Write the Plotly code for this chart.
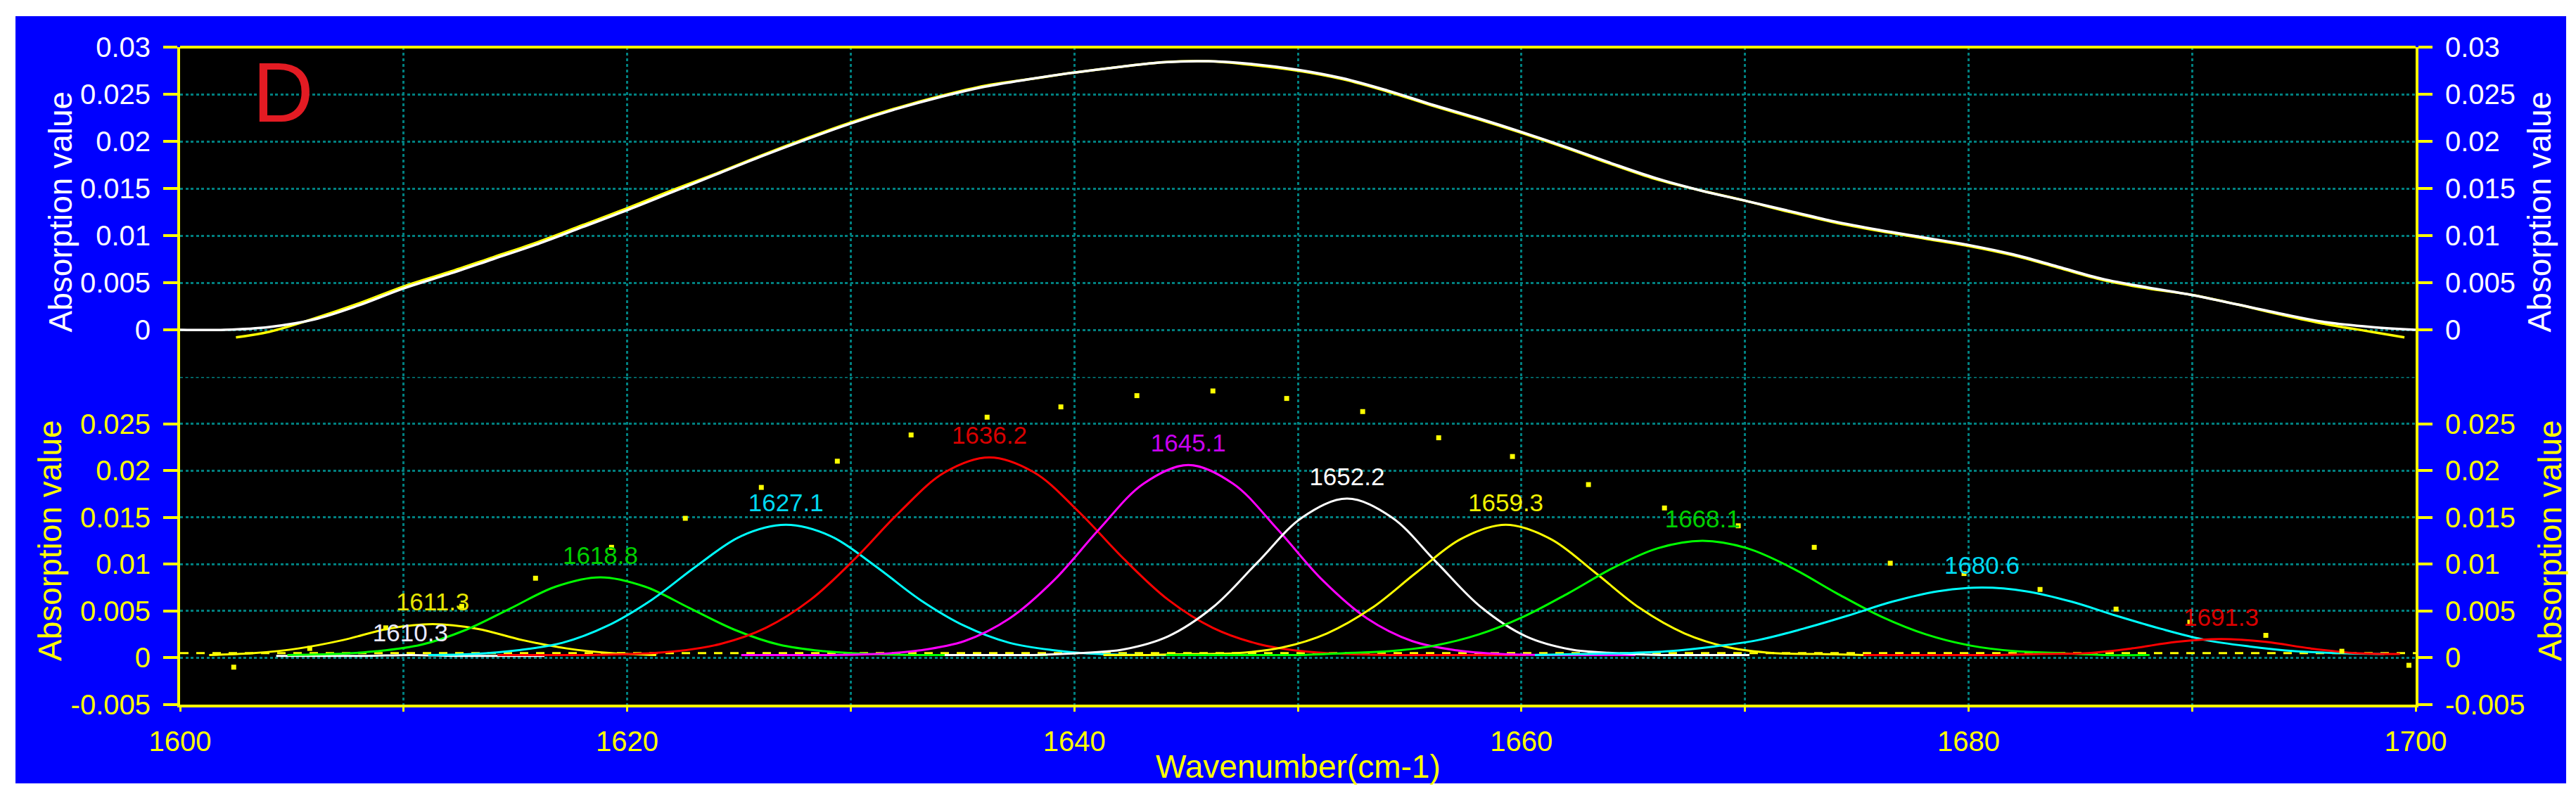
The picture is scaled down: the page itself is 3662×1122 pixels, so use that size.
import plotly.graph_objects as go

# ---------------- data ----------------
# top panel: fitted curve (white) and original spectrum (yellow)
fit_x = [1600, 1602, 1604, 1606, 1608, 1610, 1612, 1614, 1616, 1618, 1620, 1622, 1624, 1626, 1628,
         1630, 1632, 1634, 1636, 1638, 1640, 1642, 1644, 1646, 1648, 1650, 1652, 1654, 1656, 1658,
         1660, 1662, 1664, 1666, 1668, 1670, 1672, 1674, 1676, 1678, 1680, 1682, 1684, 1686, 1688,
         1690, 1692, 1694, 1696, 1698, 1700]
fit_y = [0.0, 0.0, 0.0003, 0.0011, 0.0026, 0.0044, 0.0059, 0.0075, 0.0091, 0.0109, 0.0127, 0.0146,
         0.0165, 0.0184, 0.0202, 0.0219, 0.0234, 0.0247, 0.0258, 0.0266, 0.0273, 0.0279, 0.0284,
         0.0285, 0.0282, 0.0276, 0.0267, 0.0254, 0.0239, 0.0225, 0.0210, 0.0194, 0.0177, 0.0161,
         0.0148, 0.0137, 0.0126, 0.0115, 0.0106, 0.0098, 0.0090, 0.0080, 0.0067, 0.0054, 0.0045,
         0.0037, 0.0027, 0.0017, 0.0008, 0.0003, 0.0]

orig_x = [1602.5, 1604, 1606, 1608, 1610, 1612, 1614, 1616, 1618, 1620, 1622, 1624, 1626, 1628,
          1630, 1632, 1634, 1636, 1638, 1640, 1642, 1644, 1646, 1648, 1650, 1652, 1654, 1656, 1658,
          1660, 1662, 1664, 1666, 1668, 1670, 1672, 1674, 1676, 1678, 1680, 1682, 1684, 1686, 1688,
          1690, 1692, 1694, 1696, 1698, 1699.5]
orig_y = [-0.0008, -0.0002, 0.0012, 0.0028, 0.0046, 0.0061, 0.0077, 0.0093, 0.0111, 0.0129, 0.0148,
          0.0166, 0.0185, 0.0203, 0.0220, 0.0235, 0.0248, 0.0259, 0.0266, 0.0273, 0.0279, 0.0284,
          0.0285, 0.0281, 0.0275, 0.0266, 0.0253, 0.0238, 0.0224, 0.0209, 0.0193, 0.0176, 0.0160,
          0.0148, 0.0137, 0.0125, 0.0114, 0.0105, 0.0097, 0.0089, 0.0079, 0.0066, 0.0053, 0.0044,
          0.0037, 0.0027, 0.0016, 0.0006, -0.0002, -0.0008]

# bottom panel: original data points
dot_x = [1602.4, 1605.8, 1609.2, 1612.6, 1615.9, 1619.3, 1622.6, 1626.0, 1629.4, 1632.7, 1636.1,
         1639.4, 1642.8, 1646.2, 1649.5, 1652.9, 1656.3, 1659.6, 1663.0, 1666.4, 1669.7, 1673.1,
         1676.5, 1679.8, 1683.2, 1686.6, 1689.9, 1693.3, 1696.7, 1699.7]
dot_y = [-0.0010, 0.0010, 0.0032, 0.0055, 0.0085, 0.0118, 0.0149, 0.0182, 0.0210, 0.0238, 0.0257,
         0.0268, 0.0280, 0.0285, 0.0277, 0.0263, 0.0235, 0.0215, 0.0185, 0.0160, 0.0141, 0.0118,
         0.0101, 0.0090, 0.0073, 0.0052, 0.0038, 0.0024, 0.0007, -0.0008]

# baseline (dashed yellow)
base_x = [1600, 1700]
base_y = [0.0005, 0.0005]

# fitted band components
peak_centers = [1610.3, 1611.3, 1618.8, 1627.1, 1636.2, 1645.1, 1652.2, 1659.3, 1668.1, 1680.6, 1691.3]
peak_heights = [0.0003, 0.0036, 0.0086, 0.0142, 0.0214, 0.0206, 0.0170, 0.0142, 0.0125, 0.0075, 0.0020]
peak_colors = ["#FFFFFF", "#FFFF00", "#00FF00", "#00FFFF", "#FF0000", "#FF00FF", "#FFFFFF",
               "#FFFF00", "#00FF00", "#00FFFF", "#FF0000"]
label_colors = ["#E8E8FF", "#E6E600", "#00D000", "#00D8F0", "#D80000", "#C800F0", "#FFFFFF",
                "#F0F000", "#00D000", "#00D8F0", "#D80000"]

c0_x = [1604.3, 1606.3, 1608.3, 1610.3, 1612.3, 1614.3, 1616.3]
c0_y = [0.0002, 0.0002, 0.0002, 0.0003, 0.0002, 0.0002, 0.0002]
c1_x = [1601.3, 1603.3, 1605.3, 1607.3, 1609.3, 1611.3, 1613.3, 1615.3, 1617.3, 1619.3, 1621.3]
c1_y = [0.0003, 0.0005, 0.0010, 0.0019, 0.0031, 0.0036, 0.0031, 0.0019, 0.0010, 0.0005, 0.0003]
c2_x = [1604.8, 1606.8, 1608.8, 1610.8, 1612.8, 1614.8, 1616.8, 1618.8, 1620.8, 1622.8, 1624.8,
        1626.8, 1628.8, 1630.8, 1632.8, 1634.8, 1636.8, 1638.8]
c2_y = [0.0003, 0.0004, 0.0007, 0.0014, 0.0030, 0.0053, 0.0076, 0.0086, 0.0076, 0.0053, 0.0030,
        0.0014, 0.0007, 0.0004, 0.0003, 0.0003, 0.0003, 0.0003]
c3_x = [1611.1, 1613.1, 1615.1, 1617.1, 1619.1, 1621.1, 1623.1, 1625.1, 1627.1, 1629.1, 1631.1,
        1633.1, 1635.1, 1637.1, 1639.1, 1641.1, 1643.1, 1645.1]
c3_y = [0.0003, 0.0004, 0.0008, 0.0016, 0.0034, 0.0062, 0.0098, 0.0130, 0.0142, 0.0130, 0.0098,
        0.0062, 0.0034, 0.0016, 0.0008, 0.0004, 0.0003, 0.0003]
c4_x = [1614.2, 1616.2, 1618.2, 1620.2, 1622.2, 1624.2, 1626.2, 1628.2, 1630.2, 1632.2, 1634.2,
        1636.2, 1638.2, 1640.2, 1642.2, 1644.2, 1646.2, 1648.2, 1650.2, 1652.2, 1654.2, 1656.2,
        1658.2, 1660.2]
c4_y = [0.0003, 0.0003, 0.0003, 0.0004, 0.0007, 0.0015, 0.0032, 0.0062, 0.0106, 0.0156, 0.0198,
        0.0214, 0.0198, 0.0156, 0.0106, 0.0062, 0.0032, 0.0015, 0.0007, 0.0004, 0.0003, 0.0003,
        0.0003, 0.0003]
c5_x = [1625.1, 1627.1, 1629.1, 1631.1, 1633.1, 1635.1, 1637.1, 1639.1, 1641.1, 1643.1, 1645.1,
        1647.1, 1649.1, 1651.1, 1653.1, 1655.1, 1657.1, 1659.1, 1661.1, 1663.1, 1665.1]
c5_y = [0.0003, 0.0003, 0.0003, 0.0004, 0.0008, 0.0018, 0.0042, 0.0083, 0.0137, 0.0186, 0.0206,
        0.0186, 0.0137, 0.0083, 0.0042, 0.0018, 0.0008, 0.0004, 0.0003, 0.0003, 0.0003]
c6_x = [1634.2, 1636.2, 1638.2, 1640.2, 1642.2, 1644.2, 1646.2, 1648.2, 1650.2, 1652.2, 1654.2,
        1656.2, 1658.2, 1660.2, 1662.2, 1664.2, 1666.2, 1668.2, 1670.2]
c6_y = [0.0003, 0.0003, 0.0003, 0.0005, 0.0009, 0.0023, 0.0054, 0.0102, 0.0150, 0.0170, 0.0150,
        0.0102, 0.0054, 0.0023, 0.0009, 0.0005, 0.0003, 0.0003, 0.0003]
c7_x = [1641.3, 1643.3, 1645.3, 1647.3, 1649.3, 1651.3, 1653.3, 1655.3, 1657.3, 1659.3, 1661.3,
        1663.3, 1665.3, 1667.3, 1669.3, 1671.3, 1673.3, 1675.3, 1677.3]
c7_y = [0.0003, 0.0003, 0.0004, 0.0005, 0.0011, 0.0026, 0.0053, 0.0091, 0.0127, 0.0142, 0.0127,
        0.0091, 0.0053, 0.0026, 0.0011, 0.0005, 0.0004, 0.0003, 0.0003]
c8_x = [1644.1, 1646.1, 1648.1, 1650.1, 1652.1, 1654.1, 1656.1, 1658.1, 1660.1, 1662.1, 1664.1,
        1666.1, 1668.1, 1670.1, 1672.1, 1674.1, 1676.1, 1678.1, 1680.1, 1682.1, 1684.1, 1686.1,
        1688.1]
c8_y = [0.0003, 0.0003, 0.0003, 0.0003, 0.0005, 0.0007, 0.0013, 0.0025, 0.0044, 0.0069, 0.0096,
        0.0117, 0.0125, 0.0117, 0.0096, 0.0069, 0.0044, 0.0025, 0.0013, 0.0007, 0.0005, 0.0003,
        0.0003]
c9_x = [1660.6, 1662.6, 1664.6, 1666.6, 1668.6, 1670.6, 1672.6, 1674.6, 1676.6, 1678.6, 1680.6,
        1682.6, 1684.6, 1686.6, 1688.6, 1690.6, 1692.6, 1694.6, 1696.6, 1698.6]
c9_y = [0.0003, 0.0004, 0.0005, 0.0007, 0.0012, 0.0019, 0.0031, 0.0045, 0.0060, 0.0071, 0.0075,
        0.0071, 0.0060, 0.0045, 0.0031, 0.0019, 0.0012, 0.0007, 0.0005, 0.0004]
c10_x = [1675.3, 1677.3, 1679.3, 1681.3, 1683.3, 1685.3, 1687.3, 1689.3, 1691.3, 1693.3, 1695.3,
         1697.3, 1699.3]
c10_y = [0.0003, 0.0003, 0.0003, 0.0003, 0.0004, 0.0005, 0.0010, 0.0017, 0.0020, 0.0017, 0.0010,
         0.0005, 0.0004]

comp_x = [c0_x, c1_x, c2_x, c3_x, c4_x, c5_x, c6_x, c7_x, c8_x, c9_x, c10_x]
comp_y = [c0_y, c1_y, c2_y, c3_y, c4_y, c5_y, c6_y, c7_y, c8_y, c9_y, c10_y]

top_ticks = [0, 0.005, 0.01, 0.015, 0.02, 0.025, 0.03]
top_ticktext = ["0", "0.005", "0.01", "0.015", "0.02", "0.025", "0.03"]
bot_ticks = [-0.005, 0, 0.005, 0.01, 0.015, 0.02, 0.025]
bot_ticktext = ["-0.005", "0", "0.005", "0.01", "0.015", "0.02", "0.025"]

# ---------------- style ----------------
YEL = "#FFFF00"
GRID = "#008080"
BLUE = "#0000FF"
FONT = "Arial"
W, H = 3662, 1122
L, R, T, B = 248, 236, 59, 128
plot_w = W - L - R
plot_h = H - T - B
split = (H - B - 528) / plot_h  # boundary between panels


def px_x(X):
    return (X - L) / plot_w


def px_y(Y):
    return (H - B - Y) / plot_h


fig = go.Figure()

# top panel
fig.add_trace(go.Scatter(x=orig_x, y=orig_y, xaxis="x", yaxis="y2", mode="lines",
                         line=dict(color=YEL, width=3.5, shape="spline"), hoverinfo="skip"))
fig.add_trace(go.Scatter(x=fit_x, y=fit_y, xaxis="x", yaxis="y2", mode="lines",
                         line=dict(color="#FFFFFF", width=3.5, shape="spline"), hoverinfo="skip"))

# bottom panel
fig.add_trace(go.Scatter(x=base_x, y=base_y, xaxis="x", yaxis="y", mode="lines",
                         line=dict(color=YEL, width=3, dash="12px,11px"), hoverinfo="skip"))
for cx, cy, col in zip(comp_x, comp_y, peak_colors):
    fig.add_trace(go.Scatter(x=cx, y=cy, xaxis="x", yaxis="y", mode="lines",
                             line=dict(color=col, width=3, shape="spline"), hoverinfo="skip"))
fig.add_trace(go.Scatter(x=dot_x, y=dot_y, xaxis="x", yaxis="y", mode="markers",
                         marker=dict(color=YEL, size=7, symbol="square", line=dict(width=0)),
                         hoverinfo="skip"))
fig.add_trace(go.Scatter(x=peak_centers, y=[h + 0.0021 for h in peak_heights], xaxis="x", yaxis="y",
                         mode="text", text=[f"{c:.1f}" for c in peak_centers],
                         textposition="middle center",
                         textfont=dict(family=FONT, size=35, color=label_colors), hoverinfo="skip"))

# dummy traces to activate the right-hand axes
fig.add_trace(go.Scatter(x=[None], y=[None], xaxis="x", yaxis="y3", showlegend=False, hoverinfo="skip"))
fig.add_trace(go.Scatter(x=[None], y=[None], xaxis="x", yaxis="y4", showlegend=False, hoverinfo="skip"))

ycommon = dict(range=[-0.005, 0.03], showline=True, linecolor=YEL, linewidth=4,
               ticks="outside", ticklen=20, tickwidth=4, tickcolor=YEL, zeroline=False,
               fixedrange=True)

fig.update_layout(
    width=W, height=H,
    paper_bgcolor="white", plot_bgcolor="black",
    margin=dict(l=L, r=R, t=T, b=B, pad=0),
    showlegend=False,
    font=dict(family=FONT, size=40, color=YEL),
    xaxis=dict(range=[1600, 1700], anchor="y", showline=True, linecolor=YEL, linewidth=4,
               ticks="outside", ticklen=6, tickwidth=3, tickcolor=YEL, tick0=1600, dtick=20,
               showgrid=True, gridcolor=GRID, gridwidth=3, griddash="4px,4px", zeroline=False,
               tickfont=dict(family=FONT, size=40, color=YEL), ticklabelstandoff=8,
               minor=dict(dtick=10, tick0=1600, showgrid=True, gridcolor=GRID, gridwidth=3,
                          griddash="4px,4px", ticks="outside", ticklen=6, tickwidth=3,
                          tickcolor=YEL)),
    yaxis=dict(domain=[0, split], anchor="x", tickvals=bot_ticks, ticktext=bot_ticktext,
               showgrid=True, gridcolor=GRID, gridwidth=3, griddash="4px,3.5px",
               tickfont=dict(family=FONT, size=40, color=YEL), ticklabelstandoff=10, **ycommon),
    yaxis2=dict(domain=[split, 1], anchor="x", tickvals=top_ticks, ticktext=top_ticktext,
                showgrid=True, gridcolor=GRID, gridwidth=3, griddash="4px,3.5px",
                tickfont=dict(family=FONT, size=40, color="#FFFFFF"), ticklabelstandoff=10, **ycommon),
    yaxis3=dict(overlaying="y", side="right", anchor="x", tickvals=bot_ticks, ticktext=bot_ticktext,
                showgrid=False, tickfont=dict(family=FONT, size=40, color=YEL), ticklabelstandoff=10,
                **ycommon),
    yaxis4=dict(overlaying="y2", side="right", anchor="x", tickvals=top_ticks, ticktext=top_ticktext,
                showgrid=False, tickfont=dict(family=FONT, size=40, color="#FFFFFF"),
                ticklabelstandoff=10, **ycommon),
)

fig.update_layout(shapes=[
    dict(type="rect", xref="paper", yref="paper", x0=px_x(14), x1=px_x(3640), y0=px_y(1106), y1=px_y(15),
         fillcolor=BLUE, line=dict(width=0), layer="below"),
    dict(type="rect", xref="paper", yref="paper", x0=0, x1=1, y0=0, y1=1,
         fillcolor="black", line=dict(width=0), layer="below"),
    dict(type="line", xref="paper", yref="y", x0=0, x1=1, y0=0.03, y1=0.03,
         line=dict(color=GRID, width=3, dash="4px,3.5px"), layer="below"),
    dict(type="line", xref="paper", yref="paper", x0=0, x1=1, y0=1, y1=1,
         line=dict(color=YEL, width=4), layer="above"),
])

fig.update_layout(annotations=[
    dict(text="Absorption value", xref="paper", yref="paper", x=px_x(78), y=(split + 1) / 2,
         showarrow=False, textangle=-90, font=dict(family=FONT, size=46, color="#FFFFFF"),
         xanchor="center", yanchor="middle"),
    dict(text="Absorption value", xref="paper", yref="paper", x=px_x(63), y=split / 2,
         showarrow=False, textangle=-90, font=dict(family=FONT, size=46, color=YEL),
         xanchor="center", yanchor="middle"),
    dict(text="Absorption value", xref="paper", yref="paper", x=px_x(3602), y=(split + 1) / 2,
         showarrow=False, textangle=-90, font=dict(family=FONT, size=46, color="#FFFFFF"),
         xanchor="center", yanchor="middle"),
    dict(text="Absorption value", xref="paper", yref="paper", x=px_x(3617), y=split / 2,
         showarrow=False, textangle=-90, font=dict(family=FONT, size=46, color=YEL),
         xanchor="center", yanchor="middle"),
    dict(text="Wavenumber(cm-1)", xref="paper", yref="paper", x=0.5, y=px_y(1082),
         showarrow=False, font=dict(family=FONT, size=46, color=YEL),
         xanchor="center", yanchor="middle"),
    dict(text="D", xref="x", yref="y2", x=1604.6, y=0.0252, showarrow=False,
         font=dict(family=FONT, size=120, color="#E31B23"), xanchor="center", yanchor="middle"),
])

fig.write_html("out.html")
